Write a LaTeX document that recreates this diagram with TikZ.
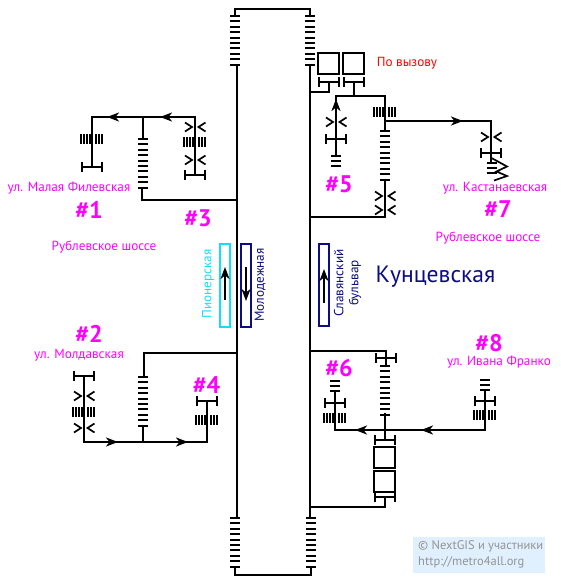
\documentclass[tikz,border=0pt]{standalone}
\usepackage{fontspec}
\setmainfont{PT Sans}
\usetikzlibrary{arrows.meta}
\definecolor{Navy}{HTML}{0C0C84}
\definecolor{Cyan}{HTML}{14DCFC}
\definecolor{Label}{HTML}{FF00FF}
\tikzset{
	track/.style={line width=2pt, line cap=butt, line join=miter},
	bar/.style={line width=2pt},
	flow/.style={track, -{Stealth[length=12pt,width=9pt,inset=3.5pt]}},
	platform/.style={line width=2pt},
	station/.style={font=\fontsize{13.2}{15}\selectfont, text=Label, inner sep=0pt},
	number/.style={font=\fontsize{24}{26}\selectfont\bfseries, text=Label, inner sep=0pt},
	platformname/.style={font=\fontsize{13.2}{15}\selectfont, rotate=90, align=center, inner sep=0pt},
	lift/.style={draw, line width=2pt, minimum size=21pt, inner sep=0pt},
	flight/.pic={\foreach \i in {0,5,11,16,22,27,32,38,43,49} \draw[bar] (-5,\i) -- (5,\i);},
	flatflight/.pic={\foreach \i in {-11,-8,-5,-2,4,7,10} \draw[bar] (\i,-5) -- (\i,5);},
	stub/.pic={\foreach \i in {0,5,10} \draw[bar] (-5,\i) -- (5,\i);},
	gate/.pic={
		\draw[bar,line width=1.7pt] (-10,-4.5) -- (-3,0) -- (-10,4.5);
		\draw[bar,line width=1.7pt] (10.5,-4.5) -- (3.5,0) -- (10.5,4.5);
	},
	ibeam/.pic={
		\draw[bar] (-10,0) -- (10,0);
		\draw[bar] (-10,-5) -- (-10,5);
		\draw[bar] (10,-5) -- (10,5);
	}
}
\begin{document}
\begin{tikzpicture}[x=1pt,y=-1pt]
		\useasboundingbox (0,0) rectangle (560,584);

		% hall
		\draw[track] (237,65) -- (237,518);
		\draw[track] (310,65) -- (310,518);
		\draw[track] (235,16) -- (235,9) -- (310,9) -- (310,16);
		\draw[track] (235,567) -- (235,575) -- (311,575) -- (311,567);
		\pic at (235,16) {flight};
		\pic at (310,16) {flight};
		\pic at (235,518) {flight};
		\pic at (311,518) {flight};

		% platforms
		\draw[platform,Cyan] (220,244) rectangle (230,327);
		\draw[platform,Navy] (241,244) rectangle (251,327);
		\draw[platform,Navy] (319,244) rectangle (329,326);
		\draw[flow] (225,300) -- (225,267);
		\draw[flow] (246,267) -- (246,301);
		\draw[flow] (324,303) -- (324,269);
		\node[platformname,text=Cyan] (Pioner) at (208,284) {Пионерская};
		\node[platformname,text=Navy] (Molod) at (260,285) {Молодежная};
		\node[platformname,text=Navy] (Slav) at (347.5,283) {Славянский\\ бульвар};
		\node[text=Navy,inner sep=0pt,font=\fontsize{23.6}{26}\selectfont] (Kuntsevo) at (435.5,277) {Кунцевская};

		% exits 1, 3
		\draw[track] (237,200) -- (142,200) -- (142,188);
		\draw[track] (143,139) -- (143,117);
		\draw[track] (92,167) -- (92,117) -- (195,117) -- (195,175);
		\draw[flow] (143,117) -- (107,117);
		\draw[flow] (195,117) -- (160,117);
		\pic at (143,139) {flight};
		\pic at (92,139) {flatflight};
		\pic at (92,167) {ibeam};
		\pic at (195,127) {gate};
		\pic at (195,142) {flatflight};
		\pic at (195,160) {gate};
		\pic at (195,175) {ibeam};
		\node[station] (Filev) at (69,188) {ул. Малая Филевская};
		\node[number] (N1) at (89,210) {\#1};
		\node[number] (N3) at (198,218) {\#3};
		\node[station] (RubL) at (104,247) {Рублевское шоссе};

		% exits 2, 4
		\draw[track] (237,353) -- (144,353) -- (144,377);
		\draw[track] (143,425) -- (143,442);
		\draw[track] (84,376) -- (84,442) -- (207,442) -- (207,401);
		\draw[flow] (84,442) -- (118,442);
		\draw[flow] (143,442) -- (188,442);
		\pic at (143,377) {flight};
		\pic at (84,376) {ibeam};
		\pic at (84,396) {gate};
		\pic at (84,412) {flatflight};
		\pic at (84,428) {gate};
		\pic at (207,401) {ibeam};
		\pic at (207,420) {flatflight};
		\node[number] (N2) at (89,334) {\#2};
		\node[station] (Mold) at (79,355) {ул. Молдавская};
		\node[number] (N4) at (206.5,385) {\#4};

		% exits 5, 7
		\node[lift] (LiftA) at (328.5,63.5) {};
		\node[lift] (LiftB) at (353.5,63.5) {};
		\node[text=red,inner sep=0pt,font=\fontsize{13.2}{15}\selectfont] (OnCall) at (407,63) {По вызову};
		\pic at (329,82) {ibeam};
		\pic at (354,82) {ibeam};
		\draw[track] (329,82) -- (329,92) -- (310,92);
		\draw[track] (354,82) -- (354,96);
		\draw[track] (336,155) -- (336,96) -- (385,96) -- (385,130);
		\draw[flow] (336,112) -- (336,99);
		\draw[track] (385,180) -- (385,217) -- (310,217);
		\draw[track] (385,121) -- (491,121) -- (491,163);
		\draw[flow] (385,121) -- (463,121);
		\pic at (385,112) {flatflight};
		\pic at (385,131) {flight};
		\pic at (385,196) {gate};
		\pic at (385,210) {gate};
		\pic at (336,122) {gate};
		\pic at (336,139) {ibeam};
		\pic at (336,156) {stub};
		\pic at (491,137) {gate};
		\pic at (491,153) {ibeam};
		\pic at (492,163) {stub};
		\draw[bar,line width=1.7pt] (491.5,158) -- (507,166.5) -- (496.5,171.5) -- (507,176) -- (494,180.5);
		\node[number] (N5) at (339,184) {\#5};
		\node[station] (Kastan) at (495,188) {ул. Кастанаевская};
		\node[number] (N7) at (498,209) {\#7};
		\node[station] (RubR) at (488,238) {Рублевское шоссе};

		% exits 6, 8
		\draw[track] (310,351) -- (386,351) -- (386,366);
		\draw[track] (385,413) -- (385,440);
		\draw[track] (335,391) -- (335,430) -- (485,430) -- (485,390);
		\draw[flow] (385,430) -- (355,430);
		\draw[flow] (485,430) -- (421,430);
		\draw[track] (385,497) -- (385,507) -- (310,507);
		\pic at (385,366) {flight};
		\pic at (386,358) {ibeam};
		\pic at (385,440) {ibeam};
		\node[lift] (LiftC) at (384.5,457.5) {};
		\node[lift] (LiftD) at (384.5,481.5) {};
		\pic at (385,497) {ibeam};
		\pic at (335,381) {stub};
		\pic at (335,403) {ibeam};
		\pic at (335,418) {flatflight};
		\pic at (485,380) {stub};
		\pic at (485,401) {ibeam};
		\pic at (485,415) {flatflight};
		\node[number] (N6) at (339,368) {\#6};
		\node[number] (N8) at (489,343) {\#8};
		\node[station] (Franko) at (499,362) {ул. Ивана Франко};

		% attribution
		\fill[blue!50!cyan!12!white] (413,537) rectangle (545,573);
		\node[anchor=west,inner sep=0pt,text=black!42,font=\fontsize{12.5}{14}\selectfont] (Credit) at (418,546) {© NextGIS и участники};
		\node[anchor=west,inner sep=0pt,text=black!42,font=\fontsize{12.5}{14}\selectfont] (Site) at (418,562) {http://metro4all.org};
	\end{tikzpicture}
\end{document}
